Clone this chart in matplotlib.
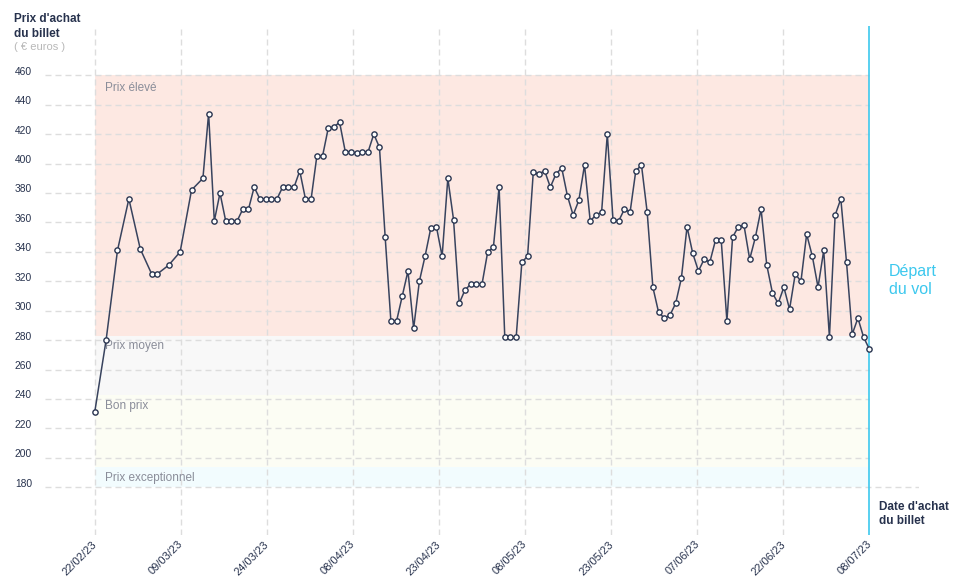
import matplotlib
matplotlib.use('Agg')
import matplotlib.pyplot as plt
import matplotlib.dates as mdates
import matplotlib.transforms as mtransforms
import pandas as pd
import numpy as np

plt.rcParams['font.family'] = ['Liberation Sans', 'DejaVu Sans']

# ---------------- data ----------------
early_dates = ['2023-02-22', '2023-02-24', '2023-02-26', '2023-02-28', '2023-03-02',
               '2023-03-04', '2023-03-05', '2023-03-07', '2023-03-09', '2023-03-11',
               '2023-03-13', '2023-03-14']
daily_start = '2023-03-15'
daily_end = '2023-07-08'

prices = [231, 280, 341, 376, 342, 325, 325, 331, 340, 382, 390, 434,
          361, 380, 361, 361, 361, 369, 369, 384, 376, 376, 376, 376,
          384, 384, 384, 395, 376, 376, 405, 405, 424, 425, 428, 408,
          408, 407, 408, 408, 420, 411, 350, 293, 293, 310, 327, 288,
          320, 337, 356, 357, 337, 390, 362, 305, 314, 318, 318, 318,
          340, 343, 384, 282, 282, 282, 333, 337, 394, 393, 395, 384,
          393, 397, 378, 365, 375, 399, 361, 365, 367, 420, 362, 361,
          369, 367, 395, 399, 367, 316, 299, 295, 297, 305, 322, 357,
          339, 327, 335, 333, 348, 348, 293, 350, 357, 358, 335, 350,
          369, 331, 312, 305, 316, 301, 325, 320, 352, 337, 316, 341,
          282, 365, 376, 333, 284, 295, 282, 274]

axis_start = '2023-02-22'
axis_end = '2023-07-08'
tick_labels = ['22/02/23', '09/03/23', '24/03/23', '08/04/23', '23/04/23',
               '08/05/23', '23/05/23', '07/06/23', '22/06/23', '08/07/23']
y_ticks = list(range(180, 461, 20))

band_names = ['Prix élevé', 'Prix moyen', 'Bon prix', 'Prix exceptionnel']
band_tops = [460, 283, 242.5, 193.5]
band_bottoms = [283, 242.5, 193.5, 180]
band_colors = ['#fde8e2', '#f8f8f8', '#fcfdf4', '#f2fcfe']

# ---------------- styles ----------------
NAVY = '#27324d'
GRID = '#dddddd'
CYAN = '#3cc8ee'
BAND_TXT = '#8a8d99'

dates = pd.to_datetime(early_dates).append(pd.date_range(daily_start, daily_end))
x = mdates.date2num(dates)
start = mdates.date2num(pd.Timestamp(axis_start))
end = mdates.date2num(pd.Timestamp(axis_end))

W, H = 958, 585
fig = plt.figure(figsize=(W / 100, H / 100), dpi=100)
ax_left, ax_right, ax_top, ax_bottom = 45, 919, 26, 535
ax = fig.add_axes([ax_left / W, (H - ax_bottom) / H,
                   (ax_right - ax_left) / W, (ax_bottom - ax_top) / H])

x0_px, x1_px = 94.7, 869.3
ppd = (x1_px - x0_px) / (end - start)
ax.set_xlim(start - (x0_px - ax_left) / ppd, start + (ax_right - x0_px) / ppd)
ax.set_ylim(147.6, 493.5)

for s in ax.spines.values():
    s.set_visible(False)

# bands
for lo, hi, c in zip(band_bottoms, band_tops, band_colors):
    ax.fill_between([start, end], lo, hi, color=c, lw=0, zorder=0)
for name, hi in zip(band_names, band_tops):
    dy = -11.2 if hi == band_tops[0] else -9.8
    ax.annotate(name, xy=(start, hi), xytext=(7.3, dy), textcoords='offset points',
                ha='left', va='baseline', fontsize=8.5, color=BAND_TXT, zorder=3)

# grid
dash = (0, (4.3, 2.9))
grid_xmax = (x1_px - ax_left) / (ax_right - ax_left)
for v in y_ticks:
    ax.axhline(v, xmin=0, xmax=1 if v == y_ticks[0] else grid_xmax,
               color=GRID, lw=1, ls=dash, zorder=1)
xticks = np.linspace(start, end, len(tick_labels))
for t in xticks[:-1]:
    ax.axvline(t, color=GRID, lw=1, ls=dash, zorder=1)
ax.axvline(end, color=CYAN, lw=1.2, zorder=4)

# line
ax.plot(x, prices, color='#38435e', lw=1.1, marker='o', ms=3.8,
        mfc='white', mec='#2a3550', mew=1.0, zorder=5, clip_on=False)

# ticks
ax.set_xticks(xticks)
ax.set_xticklabels(tick_labels, rotation=45, ha='right', rotation_mode='anchor',
                   fontsize=8, color=NAVY)
ax.tick_params(axis='x', length=0, pad=3)
for lab in ax.get_xticklabels():
    lab.set_transform(lab.get_transform() +
                      mtransforms.ScaledTranslation(-3 / 100, 0, fig.dpi_scale_trans))
ax.set_yticks(y_ticks)
ax.set_yticklabels([str(v) for v in y_ticks], fontsize=7.4, color=NAVY)
ax.tick_params(axis='y', length=0, pad=9.3)
for lab in ax.get_yticklabels():
    lab.set_transform(lab.get_transform() +
                      mtransforms.ScaledTranslation(0, 4.6 / 100, fig.dpi_scale_trans))

# annotations
ax.annotate('Départ\ndu vol', xy=(end, 320.5), xytext=(14.0, 0),
            textcoords='offset points', ha='left', va='center',
            fontsize=11.5, color=CYAN, linespacing=1.25)

fig.text(14 / W, 1 - 26.5 / H, "Prix d'achat\ndu billet", ha='left', va='center',
         fontsize=8.5, fontweight='bold', color=NAVY, linespacing=1.25)
fig.text(14 / W, 1 - 47 / H, "( € euros )", ha='left', va='center',
         fontsize=8, color='#b8b8b8')
fig.text(879 / W, 1 - 514 / H, "Date d'achat\ndu billet", ha='left', va='center',
         fontsize=8.5, fontweight='bold', color=NAVY, linespacing=1.25)

fig.savefig('out.png', dpi=100)
